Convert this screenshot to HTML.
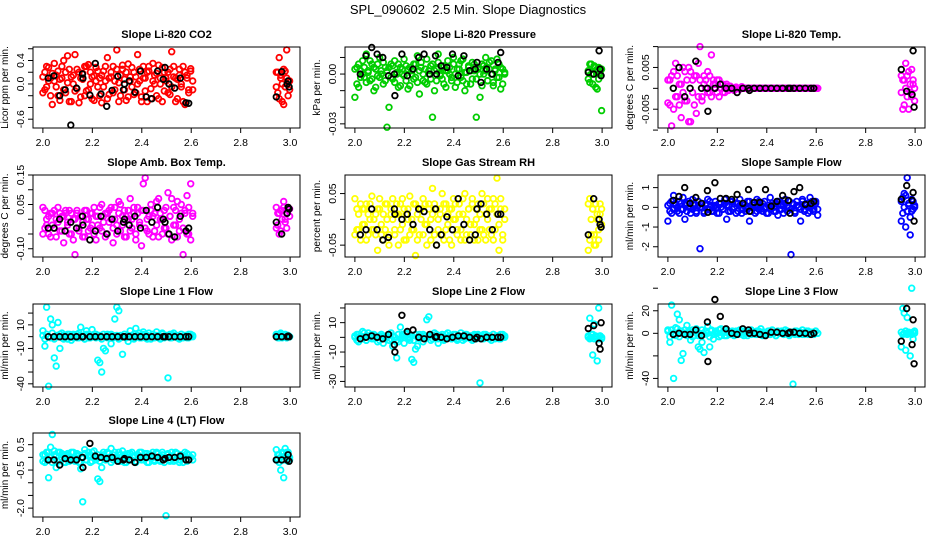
<!DOCTYPE html>
<html><head><meta charset="utf-8"><title>SPL_090602 2.5 Min. Slope Diagnostics</title>
<style>
html,body{margin:0;padding:0;background:#fff;}
svg{display:block;font-family:"Liberation Sans",sans-serif;}
</style></head>
<body>
<svg id="chart" width="936" height="540" viewBox="0 0 936 540" xmlns="http://www.w3.org/2000/svg">
<rect x="0" y="0" width="936" height="540" fill="#fff"/>
<text x="468" y="14" text-anchor="middle" font-size="13">SPL_090602&#160; 2.5 Min. Slope Diagnostics</text>
</svg>
<script>
// ---- shared x values (time) ----
const xColored = [2.000,2.008,2.015,2.023,2.031,2.038,2.046,2.054,2.061,2.069,2.077,2.084,2.092,2.100,2.107,2.115,2.123,2.130,2.138,2.146,2.153,2.161,2.169,2.176,2.184,2.192,2.199,2.207,2.215,2.222,2.230,2.238,2.245,2.253,2.261,2.268,2.276,2.284,2.291,2.299,2.307,2.314,2.322,2.330,2.337,2.345,2.353,2.360,2.368,2.376,2.383,2.391,2.399,2.406,2.414,2.422,2.429,2.437,2.445,2.452,2.460,2.468,2.475,2.483,2.491,2.498,2.506,2.514,2.521,2.529,2.537,2.544,2.552,2.560,2.567,2.575,2.583,2.590,2.598,2.606,2.944,2.950,2.956,2.962,2.968,2.974,2.980,2.986,2.992,2.998];
const xBlack = [2.022,2.045,2.068,2.09,2.113,2.136,2.16,2.162,2.19,2.212,2.235,2.258,2.28,2.303,2.326,2.33,2.349,2.372,2.395,2.418,2.441,2.464,2.487,2.494,2.51,2.533,2.556,2.579,2.59,2.944,2.966,2.988,2.992,2.996];
const xTicks = [2.0,2.2,2.4,2.6,2.8,3.0];
const xTickLabels = ["2.0","2.2","2.4","2.6","2.8","3.0"];

// ---- Panel 1: CO2 ----
const co2A = [0.12,-0.1,0.3,0.05,-0.2,0.18,0.35,-0.05,0.22,-0.28,0.1,0.4,-0.15,0.02,0.25,-0.3,0.15,0.5,-0.08,0.2,-0.22,0.08,0.3,-0.12,0.33,0.0,-0.25,0.14,0.28,-0.05,0.1,-0.32,0.22,0.05,0.45,-0.18,0.12,0.3,-0.1,0.58,0.02,-0.2,0.25,0.08,-0.28,0.34,0.12,-0.05,0.2,-0.15,0.5,0.05,-0.22,0.3,0.1,-0.3,0.22,-0.08,0.35,0.0,0.18,-0.25,0.1,0.28,-0.12,0.05,0.2,-0.18,0.55,0.12,-0.3,0.08,0.25,-0.05,0.3,-0.35,0.15,-0.1,0.26,0.05,0.2,-0.15,0.45,0.1,-0.3,0.25,-0.05,0.58,0.05,-0.1];
const co2B = [-0.15,0.2,-0.05,0.28,0.1,-0.35,0.05,0.15,-0.2,0.08,0.3,-0.1,0.2,0.48,-0.3,0.12,0.0,-0.12,0.25,-0.32,0.1,0.18,-0.2,0.3,-0.1,0.2,0.12,-0.28,0.05,0.22,-0.2,0.15,-0.05,0.3,-0.25,0.1,0.2,-0.15,0.05,0.25,-0.3,0.15,0.32,-0.1,0.2,-0.22,0.05,0.28,-0.18,0.12,0.0,0.25,-0.3,0.1,-0.12,0.2,0.3,-0.25,0.05,0.15,-0.2,0.32,0.0,-0.3,0.2,0.1,-0.15,0.25,-0.05,0.3,0.1,-0.25,0.15,0.0,-0.3,0.2,0.1,-0.15,0.22,-0.1,-0.05,0.2,-0.25,0.15,0.0,-0.35,0.22,0.1,-0.2,0.05];
const co2Black = [0.1,0.14,-0.2,-0.1,-0.7,-0.07,0.17,0.1,-0.19,0.35,-0.17,-0.38,-0.11,0.13,-0.1,0.0,0.05,-0.14,0.22,-0.22,-0.25,0.22,0.08,0.28,0.0,-0.07,0.1,-0.32,-0.33,-0.22,0.21,0.0,0.05,-0.05];
const co2Ticks = [0.6,0.4,0.2,0.0,-0.2,-0.4,-0.6];
const co2Labels = ["","0.4","","0.0","","","-0.6"];

// ---- Panel 2: Pressure ----
const presA = [-0.014,0.004,-0.008,0.002,0.008,-0.002,0.012,0.001,-0.004,0.006,-0.01,0.003,-0.001,0.01,0.0,-0.006,0.004,0.002,-0.02,0.006,-0.003,0.008,0.001,-0.008,0.004,0.0,0.009,-0.004,0.003,-0.007,0.002,0.006,-0.002,0.011,-0.012,0.004,0.0,-0.005,0.009,0.002,-0.003,0.006,-0.01,0.003,0.012,-0.001,0.004,-0.006,0.002,0.008,0.0,-0.004,0.01,-0.008,0.003,0.006,-0.002,0.009,-0.01,0.001,0.004,-0.006,0.007,0.002,-0.003,0.004,-0.014,0.006,0.0,0.01,-0.004,0.003,0.008,-0.007,0.002,-0.002,0.006,-0.009,0.003,0.0,0.002,-0.005,0.006,0.0,0.004,-0.008,0.003,-0.003,0.001,-0.022];
const presB = [0.003,-0.006,0.006,-0.002,0.0,0.004,-0.005,0.002,0.008,-0.003,0.004,-0.008,0.006,-0.002,0.002,0.007,-0.004,-0.032,0.004,-0.002,0.005,-0.005,0.0,0.006,-0.007,0.003,-0.001,0.005,-0.009,0.004,0.0,-0.003,0.006,-0.005,0.002,0.007,-0.004,0.003,-0.006,0.0,0.005,-0.026,0.002,-0.004,0.007,0.0,-0.003,0.005,-0.008,0.002,0.004,-0.002,0.006,0.0,-0.005,0.003,0.008,-0.004,0.001,-0.006,0.005,0.002,-0.003,0.006,-0.026,0.003,0.0,-0.007,0.005,0.002,-0.004,0.007,0.0,-0.005,0.003,0.009,-0.002,0.004,-0.006,0.001,-0.003,0.006,0.0,-0.006,0.005,0.002,-0.009,0.004,0.0,0.003];
const presBlack = [0.0,0.011,0.016,0.012,0.01,-0.001,0.0,-0.013,0.012,-0.001,0.003,0.01,0.012,0.0,0.011,0.0,0.005,0.004,0.012,-0.001,0.011,0.002,0.003,0.007,-0.005,0.003,0.0,0.007,0.013,0.001,0.0,0.014,0.003,-0.001];
const presTicks = [0.01,0.0,-0.01,-0.02,-0.03];
const presLabels = ["","0.00","","","-0.03"];

// ---- Panel 3: Li-820 Temp ----
const tempA = [-0.0035,0.002,-0.009,0.004,-0.002,0.003,-0.004,0.001,0.005,-0.003,0.002,-0.008,0.004,-0.001,0.003,-0.006,0.006,0.01,-0.002,0.003,0.0,0.004,-0.001,0.008,0.002,0.001,-0.001,0.002,0.0,0.001,-0.001,0.001,0.0,0.0005,0.0,-0.0005,0.0003,0.0,-0.0002,0.0004,0,0,0,0,0,0,0,0,0,0,0,0,0,0,0,0,0,0,0,0,0,0,0,0,0,0,0,0,0,0,0,0,0,0,0,0,0,0,0,0,0.003,-0.005,0.002,0.006,-0.002,0.004,-0.001,0.0045,0.001,-0.003];
const tempB = [0.002,-0.004,0.003,-0.005,0.006,-0.002,0.001,-0.007,-0.001,0.004,-0.003,0.005,-0.008,0.002,-0.004,0.003,-0.002,0.002,-0.003,0.001,0.002,-0.001,0.003,-0.002,0.001,0.0,0.002,-0.002,0.001,-0.001,0.0,0.0005,-0.0005,0,0,0,0,0,0,0,0,0,0,0,0,0,0,0,0,0,0,0,0,0,0,0,0,0,0,0,0,0,0,0,0,0,0,0,0,0,0,0,0,0,0,0,0,0,0,0,-0.001,0.002,-0.004,0.0,0.003,-0.005,0.001,-0.002,0.002,0.0];
const tempBlack = [0.0,0.005,-0.002,0.0,0.0065,0.0,0.0,-0.0055,0.0,0.001,0.0,0.0,-0.001,0.0,0.0,-0.0005,0,0,0,0,0,0,0,0,0,0,0,0,0,0.0045,-0.0007,-0.0015,0.009,-0.0045];
const tempTicks = [0.01,0.005,0.0,-0.005,-0.01];
const tempLabels = ["","0.005","","-0.005",""];

// ---- Panel 4: Amb Box Temp ----
const ambA = [-0.05,0.03,-0.02,0.01,-0.06,0.02,-0.03,0.0,0.04,-0.04,0.01,-0.08,0.02,-0.01,0.03,-0.05,0.0,-0.12,0.02,-0.03,0.01,-0.06,0.03,0.0,-0.04,0.02,-0.02,0.04,-0.07,0.01,-0.03,0.05,-0.01,0.02,-0.05,0.03,0.0,-0.08,0.04,-0.02,0.06,-0.04,0.01,0.03,-0.06,0.0,0.07,-0.03,0.02,-0.05,0.04,-0.01,-0.09,0.03,0.14,-0.04,0.01,0.05,-0.06,0.02,-0.02,0.07,0.0,-0.05,0.03,-0.03,0.09,0.01,-0.07,0.04,-0.02,0.06,-0.04,0.02,-0.12,0.03,0.08,-0.05,0.12,0.01,0.04,-0.02,0.02,-0.04,0.03,0.06,0.0,-0.03,0.04,0.01];
const ambB = [0.04,-0.03,0.0,-0.05,0.02,-0.02,0.03,-0.06,-0.01,0.02,-0.04,0.01,0.03,-0.02,-0.05,0.02,-0.07,0.0,0.03,-0.04,0.01,-0.01,-0.06,0.03,0.0,-0.03,0.02,-0.05,0.01,-0.02,0.04,-0.04,0.01,-0.06,0.02,-0.01,0.04,-0.03,0.0,-0.05,0.02,0.05,-0.02,-0.06,0.01,0.03,-0.04,0.0,0.04,-0.07,0.02,-0.02,0.03,0.12,-0.03,0.0,-0.05,0.03,0.01,-0.04,0.06,-0.06,0.02,0.0,-0.03,0.04,-0.05,0.01,0.07,-0.02,0.03,-0.06,0.0,0.05,-0.03,0.02,-0.05,0.04,-0.07,0.02,-0.03,0.02,-0.05,0.03,0.0,0.04,-0.01,0.02,0.03,0.035];
const ambBlack = [-0.03,-0.03,0.0,-0.04,-0.01,-0.03,0.01,-0.02,-0.07,-0.04,0.01,-0.05,0.0,-0.04,-0.01,0.0,-0.02,0.01,-0.03,0.03,-0.01,0.04,0.0,-0.01,-0.05,-0.06,0.01,-0.04,-0.03,-0.01,-0.05,0.02,0.04,0.035];
const ambTicks = [0.15,0.1,0.05,0.0,-0.05,-0.1];
const ambLabels = ["0.15","","0.05","","","-0.10"];

// ---- Panel 5: Gas Stream RH ----
const rhA = [0.04,-0.02,0.01,-0.04,0.02,-0.01,0.03,-0.03,0.0,0.045,-0.02,0.01,-0.06,0.02,-0.01,-0.04,0.03,0.0,-0.03,0.02,0.04,-0.02,0.01,-0.05,0.03,-0.01,0.02,-0.04,0.0,0.045,-0.02,0.03,-0.07,0.01,-0.03,0.02,0.04,-0.01,-0.05,0.03,0.0,0.06,-0.03,0.02,-0.02,0.01,0.05,-0.04,0.03,-0.01,0.02,-0.05,0.04,0.0,-0.02,0.03,-0.04,0.01,0.05,-0.03,0.02,-0.01,0.04,-0.04,0.0,0.03,-0.02,0.05,-0.03,0.01,0.04,-0.02,0.02,-0.04,0.03,0.08,-0.01,0.04,-0.03,0.02,-0.06,0.04,-0.03,0.02,-0.05,0.03,0.0,-0.04,0.01,0.02];
const rhB = [-0.03,0.02,-0.02,0.03,-0.01,0.02,-0.04,0.01,0.03,-0.02,0.0,-0.03,0.02,0.04,-0.03,0.01,-0.02,0.03,-0.05,0.01,0.0,-0.03,0.03,0.01,-0.02,0.04,-0.04,0.01,0.02,-0.03,0.0,-0.02,0.03,-0.04,0.02,0.0,-0.03,0.03,-0.01,0.02,-0.04,0.01,0.03,-0.05,0.0,0.02,-0.03,0.03,-0.02,0.01,-0.04,0.02,0.0,0.03,-0.03,0.01,-0.02,0.04,-0.04,0.0,0.02,-0.03,0.03,-0.01,0.02,-0.04,0.01,-0.02,0.03,-0.04,0.0,0.02,-0.03,0.04,-0.02,0.01,-0.06,0.02,-0.04,0.0,0.03,-0.04,0.0,0.02,-0.03,-0.05,0.01,-0.02,0.03,-0.01];
const rhBlack = [-0.03,-0.02,0.02,-0.02,-0.04,-0.035,0.02,0.01,0.0,0.01,-0.01,0.02,0.015,-0.02,0.02,-0.05,-0.03,0.005,-0.02,0.04,-0.01,-0.04,-0.03,0.02,0.03,0.01,-0.02,0.01,0.01,-0.03,0.04,0.0,-0.01,-0.015];
const rhTicks = [0.05,0.0,-0.05];
const rhLabels = ["0.05","","-0.05"];

// ---- Panel 6: Sample Flow ----
const sfA = [-0.7,0.2,-0.3,0.6,0.1,-0.2,0.3,-0.1,0.5,-0.6,0.2,0.0,-0.3,0.4,0.1,-0.2,0.3,-2.1,0.0,-0.3,0.2,0.4,-0.1,0.1,-0.2,0.3,0.0,-0.3,0.2,-0.1,0.4,-0.6,0.1,-0.2,0.3,0.0,-0.3,0.2,0.4,-0.1,0.1,-0.2,0.3,-0.7,0.0,0.2,-0.3,0.4,-0.1,0.1,-0.2,0.3,0.0,-0.3,0.5,0.1,-0.2,0.2,-0.4,0.3,-0.1,0.1,0.4,-0.2,0.0,-2.4,0.2,-0.3,0.3,0.0,-0.7,0.4,-0.1,0.2,-0.3,0.5,0.1,-0.2,0.3,-0.4,-0.7,0.5,0.7,-1.0,1.5,0.1,-1.4,-0.2,0.3,0.0];
const sfB = [0.1,-0.2,0.3,-0.1,0.2,0.0,-0.3,0.2,-0.1,0.1,-0.2,0.3,0.0,-0.1,0.2,-0.3,0.1,0.0,0.2,-0.2,0.1,-0.1,0.3,-0.2,0.0,0.1,-0.3,0.2,0.0,-0.1,0.2,0.1,-0.2,0.3,-0.1,0.0,0.2,-0.2,0.1,-0.3,0.2,0.0,-0.1,0.3,-0.2,0.1,0.0,-0.2,0.3,-0.1,0.2,0.0,-0.3,0.1,-0.1,0.2,0.0,-0.2,0.3,-0.1,0.1,-0.3,0.2,0.0,0.3,-0.1,0.2,-0.2,0.1,0.0,-0.1,0.3,-0.2,0.1,0.0,-0.2,0.3,-0.1,0.2,-0.1,0.3,-0.3,0.0,0.6,-0.2,0.2,-0.5,0.4,-0.1,0.1];
const sfBlack = [0.35,0.55,1.0,0.2,0.5,0.2,0.85,-0.25,1.25,0.45,0.45,0.4,0.65,0.2,0.9,-0.2,0.25,0.25,0.9,0.05,0.3,0.6,0.35,-0.3,0.8,1.0,0.15,0.2,0.3,0.4,1.1,0.35,0.75,-0.7];
const sfTicks = [1,0,-1,-2];
const sfLabels = ["1","0","-1","-2"];

// ---- Panel 7: Line 1 Flow ----
const l1A = [5,-8,25,-42,15,10,-18,-25,12,-10,3,-2,1,2,0,-3,2,1,-1,3,8,0,-2,5,2,-1,6,0,2,-20,-22,-30,-10,-12,2,0,-6,1,15,25,22,-1,-15,2,0,-4,5,1,-2,7,0,3,-1,4,1,-2,3,0,2,-1,4,1,-2,3,0,1,-35,2,-1,3,0,1,-2,2,0,1,-1,2,0,1,2,0,-1,3,1,0,2,-1,1,0];
const l1B = [1,-2,2,0,-1,3,-2,1,0,2,-1,1,0,-2,2,1,-1,0,2,-1,1,0,-2,2,-1,1,0,2,-1,0,1,-2,2,0,-1,1,2,-1,0,1,-2,1,0,2,-1,1,0,-1,2,0,1,-1,0,2,-1,1,0,-2,2,0,1,-1,0,2,-1,1,0,-1,2,0,1,-1,0,2,-1,1,0,-1,2,0,1,-1,0,2,-1,1,0,-1,1,0];
const l1Black = [0,0,0,0,0,0,0,0,0,0,0,0,0,0,0,0,0,0,0,0,0,0,0,0,0,0,0,0,0,0,0,0,0.5,0];
const l1Ticks = [20,10,0,-10,-20,-30,-40];
const l1Labels = ["","10","","-10","","","-40"];

// ---- Panel 8: Line 2 Flow ----
const l2A = [0,2,-3,1,4,0,-2,3,1,-1,2,0,-3,1,2,-4,0,1,-2,3,-6,0,-14,-3,7,2,-4,3,0,-2,-15,-17,-8,-6,2,0,-3,1,12,14,2,-1,3,0,-4,1,2,-2,0,3,1,-1,2,0,-2,1,3,0,-1,2,0,1,-2,1,0,2,-31,1,-1,2,0,1,-2,2,0,1,-1,2,0,1,0,13,2,-12,9,0,-16,20,1,-1];
const l2B = [1,-2,2,0,-1,3,-2,1,0,2,-1,1,0,-2,2,1,-1,0,2,-1,1,0,-2,2,-1,1,0,2,-1,0,1,-2,2,0,-1,1,2,-1,0,1,-2,1,0,2,-1,1,0,-1,2,0,1,-1,0,2,-1,1,0,-2,2,0,1,-1,0,2,-1,1,0,-1,2,0,1,-1,0,2,-1,1,0,-1,2,0,1,-1,0,2,-1,1,0,-1,1,0];
const l2Black = [-1,0,1,0,-1,2,-5,-10,15,4,5,0,-1,2,0,0.5,0,-1,0,1,1,0,-1,0,-1,0,0,0,0,6,8,-4,-8,10];
const l2Ticks = [20,10,0,-10,-20,-30];
const l2Labels = ["","10","","-10","","-30"];

// ---- Panel 9: Line 3 Flow ----
const l3A = [3,-8,25,-40,5,17,12,-24,-18,0,7,2,-6,3,-2,4,-12,-14,-8,-17,2,6,-12,3,-5,2,0,-3,4,1,-2,3,0,-1,2,-2,1,0,3,-1,2,0,-2,1,3,0,-1,2,0,4,-2,1,0,2,-1,3,0,-2,1,0,2,-1,3,0,-2,1,-45,2,0,-1,1,3,-1,0,2,-1,1,0,2,0,-12,22,18,-15,14,0,-20,40,-5,2];
const l3B = [2,-3,3,0,-2,4,-3,2,0,3,-2,1,0,-3,2,1,-2,0,3,-1,2,0,-3,2,-1,1,0,3,-2,0,1,-2,2,0,-1,1,2,-1,0,1,-2,1,0,2,-1,1,0,-1,2,0,1,-1,0,2,-1,1,0,-2,2,0,1,-1,0,2,-1,1,0,-1,2,0,1,-1,0,2,-1,1,0,-1,2,0,1,-1,0,2,-1,1,0,-1,1,0];
const l3Black = [-1,0,-1,-1,3,-2,10,-25,30,15,4,0,-1,4,3,0,0,-1,-2,1,1,0,0,1,1,0,0,-1,0,-7,22,-10,12,-27];
const l3Ticks = [40,20,0,-20,-40];
const l3Labels = ["","20","0","","-40"];

// ---- Panel 10: Line 4 (LT) Flow ----
const l4A = [0.1,-0.2,0.2,-0.8,0.4,0.9,0.25,-0.4,0.2,-0.1,0.15,-0.2,0.1,0.0,-0.15,0.2,-0.1,0.0,0.15,-0.2,-0.45,-1.75,0.3,-0.1,0.2,0.1,-0.15,0.25,0.0,-0.85,-0.95,-0.4,0.1,-0.1,0.2,0.0,0.35,-0.1,0.2,0.0,-0.15,0.1,0.25,-0.2,0.0,0.15,-0.1,0.2,0.0,-0.15,0.1,0.2,-0.1,0.0,0.15,-0.2,0.1,0.0,0.2,-0.1,0.15,0.0,-0.15,0.2,0.0,-2.3,0.1,-0.15,0.2,0.0,-0.1,0.15,-0.2,0.1,0.0,0.2,-0.15,0.1,0.0,-0.1,0.3,-0.1,0.1,-0.5,0.2,-0.8,0.35,0.0,0.2,-0.1];
const l4B = [-0.15,0.1,-0.1,0.2,0.0,-0.2,0.1,0.05,-0.15,0.2,-0.05,0.1,-0.2,0.15,0.0,-0.1,0.2,-0.15,0.05,0.1,-0.2,0.0,0.15,-0.1,0.05,-0.2,0.2,0.0,-0.1,0.1,-0.15,0.05,0.2,-0.1,0.0,0.15,-0.2,0.1,0.0,-0.1,0.2,-0.15,0.05,0.1,-0.2,0.0,0.15,-0.1,0.05,-0.2,0.1,0.0,0.2,-0.1,-0.05,0.15,-0.2,0.1,0.0,-0.15,0.2,-0.1,0.05,0.1,-0.2,0.0,0.15,-0.1,0.05,-0.15,0.2,0.0,-0.1,0.1,-0.2,0.05,0.15,-0.1,0.0,0.1,-0.1,0.1,-0.2,0.0,0.15,-0.1,0.05,0.2,-0.15,0.0];
const l4Black = [-0.1,-0.1,-0.3,-0.05,-0.1,-0.1,0.0,-0.4,0.55,0.05,0.0,-0.05,0.0,-0.15,-0.1,-0.05,-0.1,-0.2,0.0,0.0,0.05,0.0,-0.1,-0.05,0.0,0.0,0.05,-0.1,-0.1,-0.1,-0.1,-0.1,0.1,-0.15];
const l4Ticks = [0.5,0.0,-0.5,-1.0,-1.5,-2.0];
const l4Labels = ["0.5","","-0.5","","","-2.0"];

// ---- layout (not data) ----
const NS = "http://www.w3.org/2000/svg";
const svg = document.getElementById('chart');
const colLeft = [33,345,658];
const boxW = 267;
const rowTop = [47,175,304,433];
const rowBot = [128,257,387,517];

const panels = [
  {name:"co2", title:"Slope Li-820 CO2", ylab:"Licor ppm per min.", col:0,row:0, dom:[-0.75,0.63], color:"#ff0000", a:co2A,b:co2B,k:co2Black,t:co2Ticks,l:co2Labels},
  {name:"pressure", title:"Slope Li-820 Pressure", ylab:"kPa per min.", col:1,row:0, dom:[-0.0325,0.0163], color:"#00cd00", a:presA,b:presB,k:presBlack,t:presTicks,l:presLabels},
  {name:"li820-temp", title:"Slope Li-820 Temp.", ylab:"degrees C per min.", col:2,row:0, dom:[-0.0095,0.0099], color:"#ff00ff", a:tempA,b:tempB,k:tempBlack,t:tempTicks,l:tempLabels},
  {name:"amb-box-temp", title:"Slope Amb. Box Temp.", ylab:"degrees C per min.", col:0,row:1, dom:[-0.128,0.15], color:"#ff00ff", a:ambA,b:ambB,k:ambBlack,t:ambTicks,l:ambLabels},
  {name:"gas-stream-rh", title:"Slope Gas Stream RH", ylab:"percent per min.", col:1,row:1, dom:[-0.073,0.086], color:"#ffff00", a:rhA,b:rhB,k:rhBlack,t:rhTicks,l:rhLabels},
  {name:"sample-flow", title:"Slope Sample Flow", ylab:"ml/min per min.", col:2,row:1, dom:[-2.52,1.64], color:"#0000ff", a:sfA,b:sfB,k:sfBlack,t:sfTicks,l:sfLabels},
  {name:"line1-flow", title:"Slope Line 1 Flow", ylab:"ml/min per min.", col:0,row:2, dom:[-42.7,27.7], color:"#00ffff", a:l1A,b:l1B,k:l1Black,t:l1Ticks,l:l1Labels},
  {name:"line2-flow", title:"Slope Line 2 Flow", ylab:"ml/min per min.", col:1,row:2, dom:[-33.8,22.7], color:"#00ffff", a:l2A,b:l2B,k:l2Black,t:l2Ticks,l:l2Labels},
  {name:"line3-flow", title:"Slope Line 3 Flow", ylab:"ml/min per min.", col:2,row:2, dom:[-47.6,26], color:"#00ffff", a:l3A,b:l3B,k:l3Black,t:l3Ticks,l:l3Labels},
  {name:"line4-flow", title:"Slope Line 4 (LT) Flow", ylab:"ml/min per min.", col:0,row:3, dom:[-2.35,0.96], color:"#00ffff", a:l4A,b:l4B,k:l4Black,t:l4Ticks,l:l4Labels}
];

function mk(tag, attrs, parent){
  const e = document.createElementNS(NS, tag);
  for (const k in attrs) e.setAttribute(k, attrs[k]);
  parent.appendChild(e);
  return e;
}

panels.forEach(p => {
  const L = colLeft[p.col], T = rowTop[p.row], B = rowBot[p.row], R = L + boxW;
  const xs = v => L + (v - 1.96) / 1.08 * boxW;
  const ys = v => B - (v - p.dom[0]) / (p.dom[1] - p.dom[0]) * (B - T);

  const g = mk('g', {}, svg);
  
  

  const title = mk('text', {x: (L+R)/2, y: T-9, 'text-anchor':'middle', 'font-size':'11', 'font-weight':'bold'}, g);
  
  
  title.textContent = p.title;

  const pts = mk('g', {fill:'none', 'stroke-width':'1.8'}, g);
  
  
  [p.a, p.b].forEach(arr => {
    const n = Math.min(arr.length, xColored.length);
    for (let i = 0; i < n; i++) {
      const c = mk('circle', {cx: xs(xColored[i]).toFixed(1), cy: ys(arr[i]).toFixed(1), r: 2.8, stroke: p.color}, pts);
      
      
    }
  });
  const nb = Math.min(p.k.length, xBlack.length);
  for (let i = 0; i < nb; i++) {
    const c = mk('circle', {cx: xs(xBlack[i]).toFixed(1), cy: ys(p.k[i]).toFixed(1), r: 2.8, stroke: '#000'}, pts);
    
    
  }

  const box = mk('rect', {x:L, y:T, width:boxW, height:B-T, fill:'none', stroke:'#000', 'stroke-width':'1'}, g);
  
  

  const xa = mk('g', {}, g);
  
  
  xTicks.forEach((v, i) => {
    const x = xs(v);
    mk('line', {x1:x, x2:x, y1:B, y2:B+5, stroke:'#000'}, xa);
    const t = mk('text', {x:x, y:B+18, 'text-anchor':'middle', 'font-size':'10.5'}, xa);
    
    
    t.textContent = xTickLabels[i];
  });

  const ya = mk('g', {}, g);
  
  
  p.t.forEach((v, i) => {
    const y = ys(v);
    mk('line', {x1:L-5, x2:L, y1:y, y2:y, stroke:'#000'}, ya);
    if (p.l[i]) {
      const t = mk('text', {x:L-9, y:y, 'text-anchor':'middle', 'font-size':'10.5', transform:'rotate(-90 ' + (L-9) + ' ' + y + ')'}, ya);
      
      
      t.textContent = p.l[i];
    }
  });
  const yt = mk('text', {x:L-25, y:(T+B)/2, 'text-anchor':'middle', 'font-size':'10', transform:'rotate(-90 ' + (L-25) + ' ' + ((T+B)/2) + ')'}, ya);
  
  
  yt.textContent = p.ylab;
});
</script>
</body></html>
